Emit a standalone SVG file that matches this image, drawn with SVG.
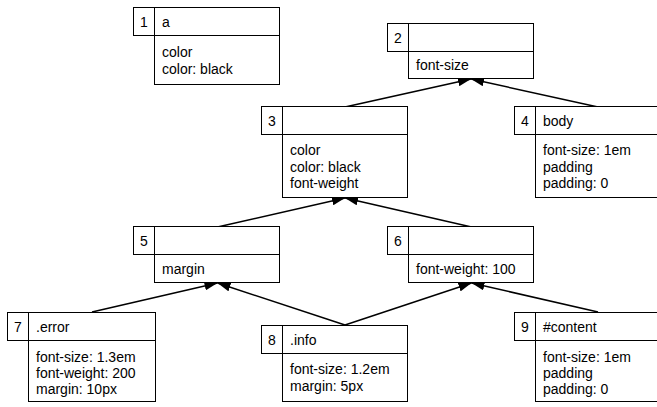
<svg xmlns="http://www.w3.org/2000/svg" width="657" height="407" viewBox="0 0 657 407">
<style>
rect{fill:#fff;stroke:#000;stroke-width:1}
text{font-family:"Liberation Sans",Arial,sans-serif;font-size:14px;fill:#000}
.n{text-anchor:middle}
.c line{stroke:#000;stroke-width:1.5;marker-end:url(#ah)}
</style>
<defs>
<marker id="ah" markerUnits="userSpaceOnUse" markerWidth="13" markerHeight="9" refX="13" refY="4.5" orient="auto">
<path d="M0,0 L13,4.5 L0,9 z" fill="#000"/>
</marker>
</defs>
<rect x="0" y="0" width="657" height="407" style="stroke:none;fill:#fff"/>
<g class="c" id="connectors">
<line x1="345" y1="107" x2="471" y2="79"/>
<line x1="598" y1="107" x2="471" y2="79"/>
<line x1="217.5" y1="227" x2="345" y2="198"/>
<line x1="471.5" y1="227" x2="345" y2="198"/>
<line x1="92" y1="312" x2="217.5" y2="283"/>
<line x1="345" y1="325" x2="217.5" y2="283"/>
<line x1="345" y1="325" x2="471.5" y2="283"/>
<line x1="598" y1="312" x2="471.5" y2="283"/>
</g>
<g id="node1">
<rect x="133.5" y="7.5" width="21" height="28"/>
<rect x="154.5" y="7.5" width="125" height="28"/>
<rect x="154.5" y="35.5" width="125" height="49"/>
<text class="n" x="144" y="27">1</text>
<text x="162" y="27">a</text>
<text x="162" y="57">color</text>
<text x="162" y="73.5">color: black</text>
</g>
<g id="node2">
<rect x="387.5" y="23.5" width="21" height="28"/>
<rect x="408.5" y="23.5" width="125" height="28"/>
<rect x="408.5" y="51.5" width="125" height="27"/>
<text class="n" x="398" y="43">2</text>
<text x="416" y="70">font-size</text>
</g>
<g id="node3">
<rect x="261.5" y="106.5" width="21" height="28"/>
<rect x="282.5" y="106.5" width="125" height="28"/>
<rect x="282.5" y="134.5" width="125" height="63"/>
<text class="n" x="272" y="126">3</text>
<text x="290" y="155">color</text>
<text x="290" y="171.5">color: black</text>
<text x="290" y="188">font-weight</text>
</g>
<g id="node4">
<rect x="514.5" y="106.5" width="21" height="28"/>
<rect x="535.5" y="106.5" width="125" height="28"/>
<rect x="535.5" y="134.5" width="125" height="63"/>
<text class="n" x="525" y="126">4</text>
<text x="543" y="126">body</text>
<text x="543" y="155">font-size: 1em</text>
<text x="543" y="171.5">padding</text>
<text x="543" y="188">padding: 0</text>
</g>
<g id="node5">
<rect x="133.5" y="226.5" width="21" height="28"/>
<rect x="154.5" y="226.5" width="125" height="28"/>
<rect x="154.5" y="254.5" width="125" height="28"/>
<text class="n" x="144" y="246">5</text>
<text x="162" y="274">margin</text>
</g>
<g id="node6">
<rect x="387.5" y="226.5" width="21" height="28"/>
<rect x="408.5" y="226.5" width="125" height="28"/>
<rect x="408.5" y="254.5" width="125" height="28"/>
<text class="n" x="398" y="246">6</text>
<text x="416" y="274">font-weight: 100</text>
</g>
<g id="node7">
<rect x="7.5" y="312.5" width="21" height="28"/>
<rect x="28.5" y="312.5" width="127" height="28"/>
<rect x="28.5" y="340.5" width="127" height="61"/>
<text class="n" x="18" y="332">7</text>
<text x="36" y="332">.error</text>
<text x="36" y="362">font-size: 1.3em</text>
<text x="36" y="378">font-weight: 200</text>
<text x="36" y="394">margin: 10px</text>
</g>
<g id="node8">
<rect x="261.5" y="325.5" width="21" height="28"/>
<rect x="282.5" y="325.5" width="125" height="28"/>
<rect x="282.5" y="353.5" width="125" height="48"/>
<text class="n" x="272" y="345">8</text>
<text x="290" y="345">.info</text>
<text x="290" y="374">font-size: 1.2em</text>
<text x="290" y="391">margin: 5px</text>
</g>
<g id="node9">
<rect x="514.5" y="312.5" width="21" height="28"/>
<rect x="535.5" y="312.5" width="125" height="28"/>
<rect x="535.5" y="340.5" width="125" height="61"/>
<text class="n" x="525" y="332">9</text>
<text x="543" y="332">#content</text>
<text x="543" y="362">font-size: 1em</text>
<text x="543" y="378">padding</text>
<text x="543" y="394">padding: 0</text>
</g>
</svg>
